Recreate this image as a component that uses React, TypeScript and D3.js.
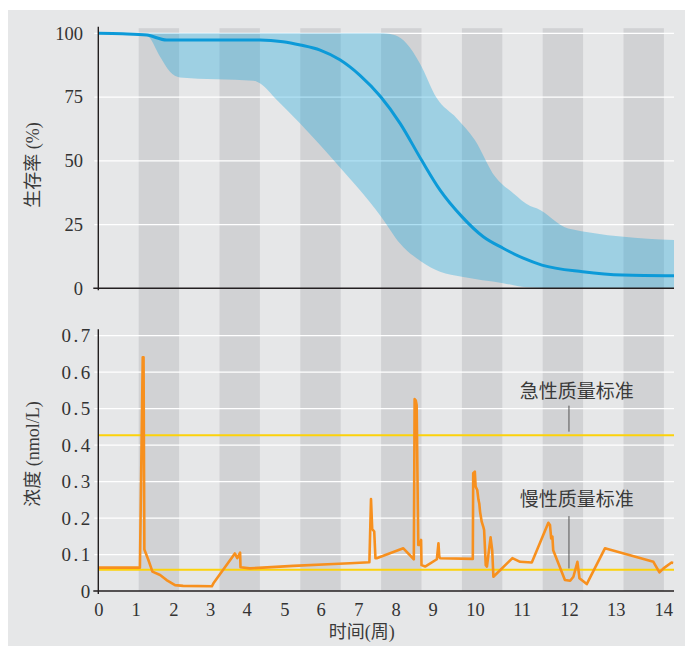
import * as d3 from "d3";
import { useEffect, useRef } from "react";

// x axis: week labels and where each label sits, in weeks of the shaded grid
const weekLabels = ["0", "1", "2", "3", "4", "5", "6", "7", "8", "9", "10", "11", "12", "13", "14"];
const weekLabelAt = [0, 0.926, 1.856, 2.765, 3.673, 4.604, 5.505, 6.436, 7.361, 8.277, 9.324, 10.48, 11.65, 12.81, 13.985];
const shadedWeeks = [1, 3, 5, 7, 9, 11, 13];

// survival (%)
const survivalTicks = [0, 25, 50, 75, 100];
const meanWeek = [0, 0.6, 1.2, 1.69, 4.0, 4.57, 5.0, 5.49, 5.98, 6.47, 6.99, 7.47, 8.0, 8.46, 9.0, 9.53, 10.02, 10.52, 10.98, 11.99, 12.98, 14.25];
const meanPct = [100, 99.8, 99.3, 97.4, 97.4, 96.7, 95.4, 93.4, 89.6, 83.6, 75.1, 64.7, 50.3, 38.5, 28.1, 20.2, 15.7, 11.8, 9.1, 6.5, 5.2, 4.9];
const upperWeek = [0, 7.05, 7.35, 7.63, 7.96, 8.38, 8.87, 9.32, 9.82, 10.27, 10.69, 10.85, 11.63, 14.25];
const upperPct = [100, 100, 99.2, 96, 88.2, 74.5, 66.7, 58.2, 43.8, 37.3, 32.3, 31.4, 23.5, 18.9];
const lowerWeek = [0, 1.2, 1.53, 1.77, 2.02, 3.84, 4.0, 4.42, 4.99, 5.82, 7.0, 7.47, 8.0, 8.46, 9.0, 10.02, 10.6, 11.43, 14.25];
const lowerPct = [100, 99, 90.8, 85, 82.7, 81.4, 80.4, 73.8, 64.7, 50.3, 28.1, 17.6, 10.4, 6.5, 4.5, 2.0, 0.4, 0, 0];

// concentration (nmol/L)
const concTicks = [0, 0.1, 0.2, 0.3, 0.4, 0.5, 0.6, 0.7];
const concWeek = [
  0, 1.03, 1.1, 1.12, 1.14, 1.24, 1.34, 1.53, 1.69, 1.9, 2.1, 2.81, 2.85, 3.38, 3.44, 3.51, 3.52, 3.75, 4.83, 5.82,
  6.23, 6.71, 6.75, 6.78, 6.83, 6.86, 6.89, 7.55, 7.81, 7.83, 7.86, 7.88, 7.92, 7.96, 7.99, 8.0, 8.09, 8.38, 8.42,
  8.44, 8.46, 9.27, 9.28, 9.32, 9.34, 9.38, 9.41, 9.43, 9.45, 9.49, 9.53, 9.55, 9.59, 9.62, 9.68, 9.71, 9.75, 9.78,
  10.25, 10.44, 10.73, 11.14, 11.18, 11.21, 11.24, 11.26, 11.55, 11.68, 11.76, 11.86, 11.91, 12.09, 12.54, 13.74,
  13.89, 13.99, 14.19, 14.23,
];
const concVal = [
  0.064, 0.064, 0.641, 0.641, 0.114, 0.085, 0.053, 0.044, 0.03, 0.016, 0.014, 0.013, 0.021, 0.103, 0.09, 0.105, 0.065,
  0.062, 0.069, 0.074, 0.076, 0.079, 0.252, 0.17, 0.163, 0.09, 0.09, 0.117, 0.087, 0.526, 0.522, 0.51, 0.126, 0.126,
  0.14, 0.071, 0.067, 0.087, 0.131, 0.094, 0.09, 0.088, 0.323, 0.327, 0.286, 0.277, 0.25, 0.24, 0.217, 0.19, 0.176,
  0.167, 0.071, 0.067, 0.121, 0.147, 0.112, 0.039, 0.09, 0.08, 0.078, 0.187, 0.181, 0.144, 0.149, 0.112, 0.03, 0.028,
  0.039, 0.08, 0.035, 0.019, 0.117, 0.08, 0.051, 0.062, 0.078, 0.077,
];
const limitLabels = ["急性质量标准", "慢性质量标准"];
const limitValues = [0.427, 0.058];

export default function App() {
  const svgRef = useRef<SVGSVGElement>(null);

  useEffect(() => {
    const width = 686;
    const height = 646;
    const left = 98.3;
    const right = 674;
    const serif = "'Liberation Serif', 'DejaVu Serif', 'Times New Roman', Times, serif";
    const cjk = "'Liberation Serif', 'Noto Sans CJK SC', sans-serif";
    const ink = "#333";

    const svg = d3.select(svgRef.current);
    svg.selectAll("*").remove();

    const x = d3.scaleLinear().domain([0, 14.25]).range([left, right]);
    const xLabel = d3.scaleLinear().domain(weekLabelAt.map((_, i) => i)).range(weekLabelAt.map((w) => x(w)));
    const yTop = d3.scaleLinear().domain([0, 100]).range([288.3, 33.3]);
    const yBot = d3.scaleLinear().domain([0, 0.7]).range([591, 335.7]);

    // panel background
    svg.append("rect")
      .attr("x", 8).attr("y", 10)
      .attr("width", width - 9).attr("height", height - 10)
      .attr("fill", "#e6e7e8");

    // shaded weeks, through both panels
    svg.append("g")
      .selectAll("rect")
      .data(shadedWeeks)
      .join("rect")
      .attr("x", (d) => x(d))
      .attr("width", (d) => x(d + 1) - x(d))
      .attr("y", yTop(102))
      .attr("height", yBot(0) - yTop(102))
      .attr("fill", "#d1d2d4");

    // gridlines
    const grid = (scale: d3.ScaleLinear<number, number>, vals: number[]) =>
      svg.append("g")
        .selectAll("line")
        .data(vals.filter((d) => d > 0))
        .join("line")
        .attr("x1", left - 4).attr("x2", right)
        .attr("y1", (d) => scale(d)).attr("y2", (d) => scale(d))
        .attr("stroke", "#fff").attr("stroke-width", 1.3);
    grid(yTop, survivalTicks);
    grid(yBot, concTicks);

    // survival band + mean
    const edge = d3.line().curve(d3.curveMonotoneX);
    const upperPts = upperWeek.map((w, i) => [x(w), yTop(upperPct[i])] as [number, number]);
    const lowerPts = lowerWeek.map((w, i) => [x(w), yTop(lowerPct[i])] as [number, number]).reverse();
    const bandPath = edge(upperPts) + "L" + (edge(lowerPts) as string).slice(1) + "Z";
    svg.append("path").attr("d", bandPath).attr("fill", "#0ba2dc").attr("fill-opacity", 0.33);

    svg.append("path")
      .datum(meanWeek.map((w, i) => [x(w), yTop(meanPct[i])] as [number, number]))
      .attr("d", edge)
      .attr("fill", "none")
      .attr("stroke", "#0c9ad8")
      .attr("stroke-width", 3);

    // limit lines
    svg.append("g")
      .selectAll("line")
      .data(limitValues)
      .join("line")
      .attr("x1", left).attr("x2", right)
      .attr("y1", (d) => yBot(d)).attr("y2", (d) => yBot(d))
      .attr("stroke", "#fcd20a").attr("stroke-width", 2);

    // concentration
    svg.append("path")
      .datum(concWeek.map((w, i) => [x(w), yBot(concVal[i])] as [number, number]))
      .attr("d", d3.line())
      .attr("fill", "none")
      .attr("stroke", "#f7901e")
      .attr("stroke-width", 2.6)
      .attr("stroke-linejoin", "round");

    // annotations
    const textOffset = [-36.8, -64];
    const leader = [[-29.6, -3.6], [-53.7, -1.4]];
    limitLabels.forEach((label, i) => {
      const yl = yBot(limitValues[i]);
      svg.append("line")
        .attr("x1", x(11.65)).attr("x2", x(11.65))
        .attr("y1", yl + leader[i][0]).attr("y2", yl + leader[i][1])
        .attr("stroke", "#555").attr("stroke-width", 1);
      svg.append("text")
        .attr("x", x(11.84)).attr("y", yl + textOffset[i])
        .attr("text-anchor", "middle")
        .style("font-family", cjk).style("font-size", "19px")
        .attr("fill", "#3a3a3a")
        .text(label);
    });

    // axes lines
    const axisColor = "#231f20";
    svg.append("line").attr("x1", left - 5).attr("x2", right).attr("y1", yTop(0)).attr("y2", yTop(0))
      .attr("stroke", axisColor).attr("stroke-width", 1.4);
    svg.append("line").attr("x1", left).attr("x2", left).attr("y1", yTop(102.6)).attr("y2", yTop(0) + 2)
      .attr("stroke", axisColor).attr("stroke-width", 1.4);
    svg.append("line").attr("x1", left - 5).attr("x2", right).attr("y1", yBot(0)).attr("y2", yBot(0))
      .attr("stroke", axisColor).attr("stroke-width", 1.4);
    svg.append("line").attr("x1", left).attr("x2", left).attr("y1", yBot(0.718)).attr("y2", yBot(0) + 3)
      .attr("stroke", axisColor).attr("stroke-width", 1.4);

    // tick labels
    const topAxis = svg.append("g")
      .attr("transform", `translate(${left},0)`)
      .call(d3.axisLeft(yTop).tickValues(survivalTicks).tickSize(0).tickPadding(15.3).tickFormat(d3.format("d")));
    topAxis.select(".domain").remove();
    topAxis.attr("font-family", null).attr("font-size", null);
    topAxis.selectAll("text").style("font-family", serif).style("font-size", "18.5px").attr("fill", ink);

    const botAxis = svg.append("g")
      .attr("transform", `translate(${left},0)`)
      .call(d3.axisLeft(yBot).tickValues(concTicks).tickSize(0).tickPadding(5.5)
        .tickFormat((d) => (+d === 0 ? "0" : d3.format(".1f")(+d))));
    botAxis.select(".domain").remove();
    botAxis.attr("font-family", null).attr("font-size", null);
    botAxis.selectAll("text").style("font-family", serif).style("font-size", "19px")
      .attr("fill", ink).attr("letter-spacing", 2.5);

    const xAxis = svg.append("g")
      .attr("transform", `translate(0,${yBot(0)})`)
      .call(d3.axisBottom(xLabel).tickValues(weekLabels.map((_, i) => i)).tickSize(0).tickPadding(12)
        .tickFormat((_, i) => weekLabels[i]));
    xAxis.select(".domain").remove();
    xAxis.attr("font-family", null).attr("font-size", null);
    xAxis.selectAll("text").style("font-family", serif).style("font-size", "18.5px").attr("fill", ink);

    // axis titles
    const title = (t: string, tx: string) =>
      svg.append("text")
        .attr("transform", tx)
        .attr("text-anchor", "middle")
        .style("font-family", cjk).style("font-size", "18px").attr("fill", "#3a3a3a")
        .text(t);
    title("生存率 (%)", "translate(39,165) rotate(-90)");
    title("浓度 (nmol/L)", "translate(39,454) rotate(-90)");
    title("时间(周)", "translate(361.7,638)");
  }, []);

  return (
    <svg
      ref={svgRef}
      width={686}
      height={646}
      style={{ position: "absolute", left: 0, top: 0, display: "block" }}
    />
  );
}
